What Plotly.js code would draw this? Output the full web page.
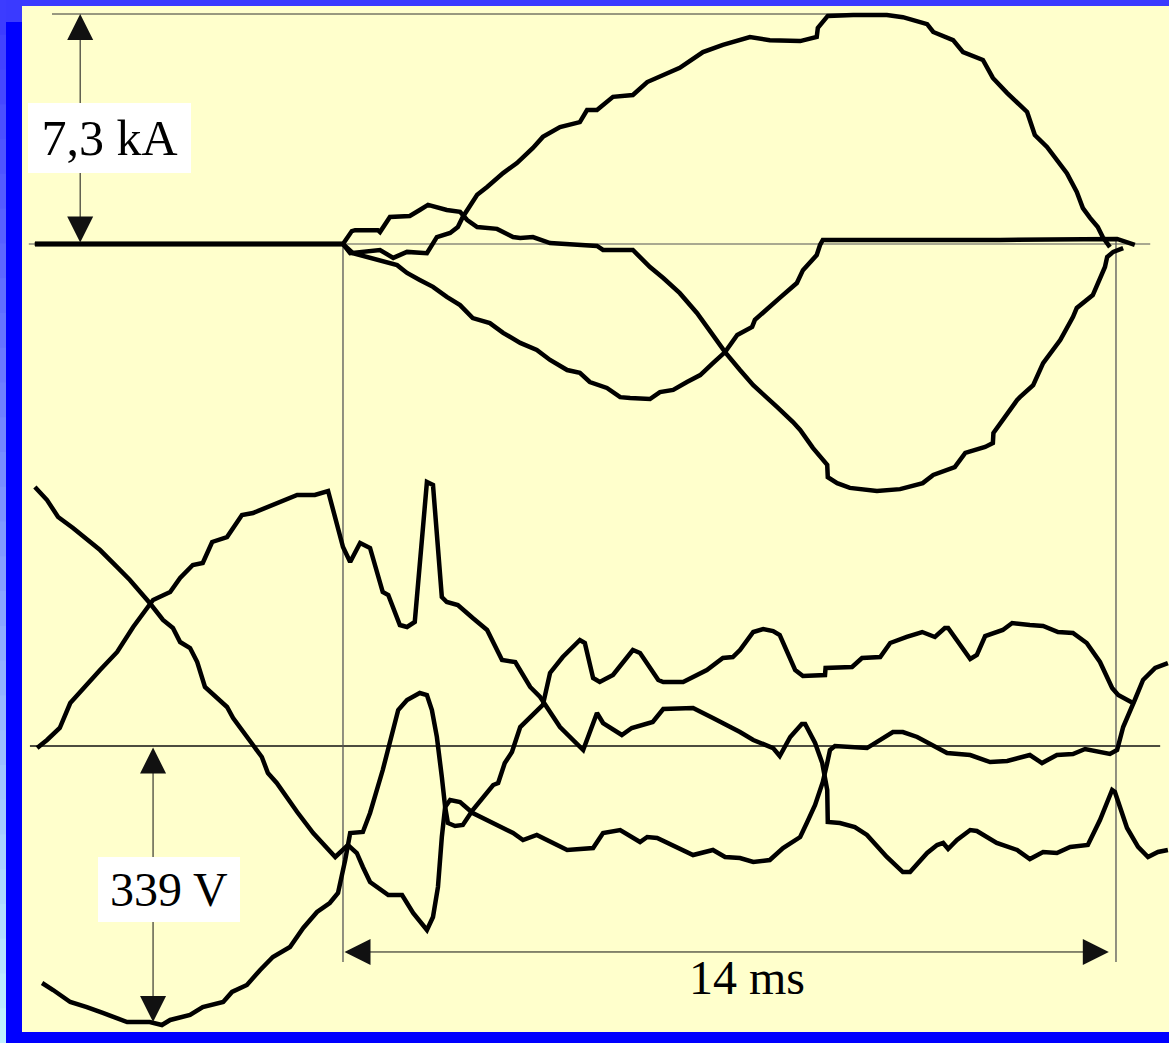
<!DOCTYPE html>
<html>
<head>
<meta charset="utf-8">
<script src="https://cdn.plot.ly/plotly-3.0.1.min.js"></script>
<style>html,body{margin:0;padding:0;background:#0000ff;}#chart{width:1169px;height:1043px;}</style>
</head>
<body>
<div id="chart"></div>
<script>
// ---- data: time in ms (0 = fault inception), currents in kA, voltages in V ----
const currentA = [[-5.58,0],[0,0],[0.13,-0.29],[0.67,-0.19],[0.91,-0.44],[1.16,-0.25],[1.52,-0.29],[1.70,0.22],[1.94,0.35],[2.08,0.54],[2.17,0.86],[2.43,1.56],[2.61,1.81],[2.90,2.25],[3.15,2.57],[3.44,3.05],[3.62,3.40],[3.93,3.71],[4.29,3.87],[4.42,4.25],[4.60,4.25],[4.89,4.67],[5.25,4.73],[5.51,5.14],[6.10,5.59],[6.52,6.09],[6.88,6.32],[7.37,6.57],[7.73,6.47],[8.28,6.44],[8.58,6.57],[8.60,6.86],[8.78,7.24],[9.24,7.27],[9.85,7.27],[10.14,7.20],[10.58,6.98],[10.69,6.73],[11.05,6.47],[11.23,6.09],[11.59,5.84],[11.77,5.27],[12.03,4.79],[12.39,4.19],[12.53,3.46],[12.75,3.08],[13.11,2.25],[13.29,1.65],[13.40,1.14],[13.53,0.83],[13.67,0.54],[13.76,0.22],[13.89,-0.10]];

const currentB = [[-5.58,0],[0,0],[0.18,-0.29],[0.98,-0.67],[1.16,-0.92],[1.39,-1.14],[1.63,-1.36],[1.88,-1.68],[2.12,-1.94],[2.35,-2.35],[2.66,-2.51],[2.90,-2.82],[3.21,-3.14],[3.51,-3.36],[3.75,-3.68],[4.06,-4.00],[4.29,-4.09],[4.47,-4.38],[4.78,-4.57],[5.02,-4.86],[5.20,-4.89],[5.56,-4.92],[5.74,-4.70],[5.98,-4.63],[6.23,-4.38],[6.47,-4.16],[6.70,-3.78],[6.92,-3.43],[7.14,-2.89],[7.41,-2.63],[7.46,-2.41],[7.91,-1.71],[8.22,-1.24],[8.33,-0.83],[8.58,-0.35],[8.64,-0.03],[8.69,0.13],[11.90,0.13],[14.02,0.16],[14.34,-0.03]];

const currentC = [[-5.58,0],[0,0],[0.16,0.41],[0.22,0.44],[0.63,0.44],[0.67,0.38],[0.85,0.86],[1.21,0.89],[1.39,1.08],[1.54,1.24],[1.88,1.08],[2.12,1.02],[2.25,0.76],[2.43,0.54],[2.79,0.48],[3.08,0.22],[3.21,0.19],[3.44,0.22],[3.75,0.03],[4.60,-0.06],[4.71,-0.19],[5.25,-0.19],[5.56,-0.73],[5.80,-1.08],[6.10,-1.56],[6.41,-2.19],[6.70,-2.89],[6.92,-3.43],[7.19,-4.00],[7.43,-4.48],[7.86,-5.17],[8.15,-5.65],[8.28,-5.90],[8.51,-6.47],[8.77,-7.01],[8.78,-7.40],[8.95,-7.59],[9.18,-7.74],[9.67,-7.84],[10.09,-7.78],[10.50,-7.59],[10.69,-7.33],[11.08,-7.08],[11.27,-6.63],[11.63,-6.44],[11.77,-6.32],[11.78,-6.00],[12.21,-4.95],[12.26,-4.86],[12.50,-4.48],[12.68,-3.78],[12.99,-3.05],[13.22,-2.32],[13.29,-2.03],[13.58,-1.62],[13.80,-0.73],[13.84,-0.41],[13.95,-0.25],[14.13,-0.13]];

const voltage1 = [[-5.58,318.1],[-5.36,302.1],[-5.16,281.3],[-4.89,267.7],[-4.40,240.7],[-4.09,219.8],[-3.86,203.9],[-3.50,175.6],[-3.26,154.8],[-3.08,144.9],[-2.95,127.7],[-2.77,120.4],[-2.64,103.2],[-2.50,72.5],[-2.10,47.9],[-1.99,34.4],[-1.63,1.2],[-1.47,-13.5],[-1.36,-33.2],[-1.20,-45.4],[-0.83,-81.1],[-0.54,-106.9],[-0.14,-136.3],[0.09,-121.6],[0.25,-131.4],[0.36,-148.6],[0.49,-167.0],[0.82,-183.0],[1.07,-183.0],[1.27,-205.1],[1.52,-226.0],[1.63,-210.0],[1.72,-173.2],[1.79,-111.8],[1.85,-74.9],[1.94,-66.3],[2.12,-68.8],[2.35,-82.3],[3.08,-106.9],[3.26,-115.5],[3.51,-109.3],[4.06,-127.7],[4.53,-125.3],[4.71,-106.9],[5.02,-103.2],[5.38,-117.9],[5.51,-111.8],[5.69,-113.0],[6.34,-133.9],[6.70,-127.7],[6.92,-136.3],[7.19,-137.6],[7.43,-142.5],[7.73,-140.0],[7.97,-125.3],[8.28,-111.8],[8.40,-94.6],[8.55,-72.5],[8.69,-44.2],[8.77,-20.9],[8.82,-4.9],[8.91,0.0],[9.49,-2.5],[9.96,17.2],[10.14,17.2],[10.40,11.1],[10.94,-8.6],[11.36,-11.1],[11.72,-19.7],[12.03,-18.4],[12.44,-11.1],[12.66,-20.9],[12.93,-11.1],[13.22,-9.8],[13.44,-3.7],[13.89,-9.8],[14.02,-4.9],[14.13,23.3],[14.34,56.5],[14.49,81.1],[14.71,95.8],[14.94,101.9]];

const voltage2 = [[-5.54,-2.5],[-5.36,7.4],[-5.13,22.1],[-4.94,52.8],[-4.40,93.3],[-4.09,115.5],[-3.80,146.2],[-3.44,179.3],[-3.13,189.1],[-2.95,206.3],[-2.72,222.3],[-2.54,224.8],[-2.37,250.6],[-2.10,256.7],[-1.83,283.7],[-1.63,286.2],[-0.83,308.3],[-0.51,308.3],[-0.27,313.2],[0,244.4],[0.13,226.0],[0.31,249.3],[0.49,243.2],[0.72,189.1],[0.82,185.5],[1.03,148.6],[1.16,146.2],[1.30,152.3],[1.52,324.2],[1.63,320.6],[1.79,183.0],[1.88,176.9],[2.08,173.2],[2.35,157.2],[2.61,142.5],[2.88,105.6],[3.12,103.2],[3.39,72.5],[3.57,60.2],[3.93,23.3],[4.35,-4.9],[4.60,40.5],[4.71,28.2],[5.05,13.5],[5.23,22.1],[5.61,29.5],[5.80,45.4],[6.34,46.7],[6.70,34.4],[7.19,17.2],[7.43,7.4],[7.79,-2.5],[7.91,-12.3],[8.10,11.1],[8.31,27.0],[8.37,27.0],[8.55,3.7],[8.68,-20.9],[8.77,-54.0],[8.78,-93.3],[9.00,-94.6],[9.27,-99.5],[9.49,-109.3],[9.85,-136.3],[10.14,-154.8],[10.27,-154.8],[10.58,-131.4],[10.76,-121.6],[10.87,-119.1],[10.96,-126.5],[11.12,-115.5],[11.36,-103.2],[11.48,-104.4],[11.84,-119.1],[12.21,-127.7],[12.44,-138.8],[12.68,-130.2],[12.93,-131.4],[13.17,-124.0],[13.49,-121.6],[13.71,-90.9],[13.93,-54.0],[13.98,-56.5],[14.20,-100.7],[14.40,-124.0],[14.58,-136.3],[14.76,-130.2],[14.94,-127.7]];

const voltage3 = [[-5.45,-291.1],[-5.25,-299.7],[-4.94,-314.4],[-4.64,-320.6],[-4.35,-327.9],[-3.91,-339.0],[-3.50,-339.0],[-3.28,-342.7],[-3.13,-336.5],[-2.77,-330.4],[-2.54,-320.6],[-2.17,-314.4],[-2.01,-302.1],[-1.74,-293.5],[-1.50,-275.1],[-1.27,-259.2],[-0.96,-246.9],[-0.72,-223.5],[-0.47,-203.9],[-0.24,-192.8],[-0.09,-180.5],[0.04,-140.0],[0.13,-106.9],[0.36,-105.6],[0.49,-82.3],[0.72,-29.5],[1.00,44.2],[1.16,56.5],[1.39,65.1],[1.52,62.6],[1.61,44.2],[1.70,11.1],[1.79,-38.1],[1.85,-74.9],[1.90,-94.6],[2.03,-98.3],[2.17,-97.0],[2.35,-78.6],[2.72,-47.9],[2.81,-45.4],[2.93,-20.9],[3.06,-7.4],[3.21,23.3],[3.62,50.4],[3.75,89.7],[3.98,109.3],[4.29,130.2],[4.38,126.5],[4.53,83.5],[4.65,78.6],[4.89,87.2],[5.25,117.9],[5.38,114.2],[5.71,81.1],[5.80,78.6],[6.16,78.6],[6.59,93.3],[6.88,108.1],[7.06,109.3],[7.19,117.9],[7.43,140.0],[7.61,143.7],[7.79,141.2],[7.91,136.3],[8.19,93.3],[8.33,86.0],[8.73,87.2],[8.74,95.8],[9.22,97.0],[9.40,108.1],[9.73,109.3],[9.91,126.5],[10.21,133.9],[10.49,140.0],[10.72,133.9],[10.90,144.9],[10.96,144.9],[11.36,106.9],[11.48,111.8],[11.63,135.1],[11.95,142.5],[12.12,151.1],[12.44,148.6],[12.68,147.4],[12.95,140.0],[13.22,138.8],[13.47,126.5],[13.71,103.2],[13.93,71.2],[14.04,62.6],[14.34,51.6]];

// scale annotations
const currentScaleKA = 7.3;
const voltageScaleV = -339;
const intervalMs = 14;
const labels = {current: '7,3 kA', voltage: '339 V', interval: '14 ms'};

// ---- traces ----
function lineTrace(pts, yaxis){
  return {x: pts.map(p=>p[0]), y: pts.map(p=>p[1]), yaxis: yaxis, type:'scatter', mode:'lines',
    line:{color:'#000000', width:4.5, simplify:false}, hoverinfo:'skip', showlegend:false};
}
const traces = [
  lineTrace(currentA,'y'), lineTrace(currentB,'y'), lineTrace(currentC,'y'),
  lineTrace(voltage1,'y2'), lineTrace(voltage2,'y2'), lineTrace(voltage3,'y2')
];

// ---- frame decoration ----
const shapes = [];
const PW = 1147, PH = 1026;
const px = v => v / PW, py = v => v / PH;
const nb = 30;
const frameTop = 1 + py(6), frameBottom = -py(11), frameSpan = frameTop - frameBottom;
for (let i = 0; i < nb; i++) {
  const f = i / (nb - 1);
  const r = Math.round(60 + (192 - 60) * f), g = Math.round(60 + (240 - 60) * f);
  shapes.push({type:'rect', xref:'paper', yref:'paper', layer:'above',
    x0: px(-22), x1: px(-16), y0: frameTop - (i + 1) * frameSpan / nb - py(1.5), y1: frameTop - i * frameSpan / nb,
    fillcolor:`rgb(${r},${g},255)`, line:{width:0}});
}
shapes.push({type:'rect', xref:'paper', yref:'paper', layer:'above', x0:px(-16), x1:1, y0:1, y1:1+py(6), fillcolor:'#3a3aff', line:{width:0}});
shapes.push({type:'rect', xref:'paper', yref:'paper', layer:'above', x0:px(-16), x1:0, y0:1-py(16), y1:1, fillcolor:'#3a3aff', line:{width:0}});

// reference lines
shapes.push({type:'line', xref:'x', yref:'y', layer:'below', x0:-5.27, x1:9.76, y0:currentScaleKA, y1:currentScaleKA, line:{color:'#333', width:1}});
shapes.push({type:'line', xref:'x', yref:'y', layer:'below', x0:-5.69, x1:14.62, y0:0, y1:0, line:{color:'#555', width:1.2}});
shapes.push({type:'line', xref:'x', yref:'y2', layer:'below', x0:-5.67, x1:14.80, y0:0, y1:0, line:{color:'#111', width:1.3}});
shapes.push({type:'line', xref:'x', yref:'y', layer:'below', x0:0, x1:0, y0:0, y1:-22.79, line:{color:'#555', width:1.3}});
shapes.push({type:'line', xref:'x', yref:'y', layer:'below', x0:intervalMs, x1:intervalMs, y0:0.16, y1:-22.79, line:{color:'#555', width:1.3}});

const serif = 'Liberation Serif, Times New Roman, serif';
function dblArrow(x, y, ax, ay, yref){
  return {x:x, y:y, ax:ax, ay:ay, xref:'x', yref:yref, axref:'x', ayref:yref, text:'', font:{size:1},
    showarrow:true, arrowhead:2, startarrowhead:2, arrowside:'end+start', arrowsize:5.2, startarrowsize:5.2,
    arrowwidth:1, arrowcolor:'#111', standoff:0, startstandoff:0};
}
const annotations = [
  dblArrow(-4.76, currentScaleKA, -4.76, 0, 'y'),
  dblArrow(-3.44, voltageScaleV, -3.44, 0, 'y2'),
  dblArrow(13.87, -253, 0, -253, 'y2'),
  {x:-4.23, y:3.36, xref:'x', yref:'y', text:labels.current, showarrow:false, bgcolor:'#ffffff',
    width:163, height:70, borderpad:0, borderwidth:0, font:{family:serif, size:50, color:'#000'}},
  {x:-3.15, y:-176.2, xref:'x', yref:'y2', text:labels.voltage, showarrow:false, bgcolor:'#ffffff',
    width:142, height:65, borderpad:0, borderwidth:0, font:{family:serif, size:48, color:'#000'}},
  {x:7.32, y:-284.9, xref:'x', yref:'y2', text:labels.interval, showarrow:false,
    font:{family:serif, size:48, color:'#000'}}
];

const layout = {
  width:1169, height:1043,
  margin:{l:22, r:0, t:6, b:11, pad:0},
  paper_bgcolor:'#0000ff', plot_bgcolor:'#ffffcc',
  xaxis:{range:[-5.8136, 14.960], visible:false, fixedrange:true},
  yaxis:{range:[-25.010, 7.554], visible:false, fixedrange:true},
  yaxis2:{range:[-351.28, 908.91], visible:false, overlaying:'y', side:'right', fixedrange:true},
  showlegend:false,
  shapes:shapes,
  annotations:annotations
};
Plotly.newPlot('chart', traces, layout, {staticPlot:true, displayModeBar:false});
</script>
</body>
</html>
